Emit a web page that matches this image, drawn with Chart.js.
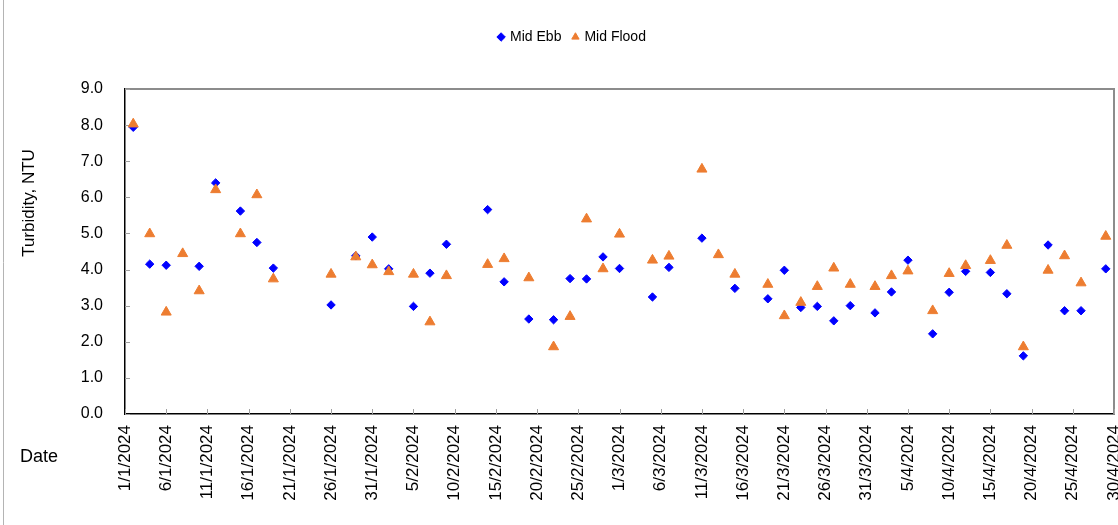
<!DOCTYPE html>
<html>
<head>
<meta charset="utf-8">
<script src="https://cdn.jsdelivr.net/npm/chart.js@4.4.0/dist/chart.umd.min.js"></script>
<style>
  html, body { margin: 0; padding: 0; background: #fff; }
</style>
</head>
<body>
<canvas id="turbChart" width="1118" height="525"></canvas>
<script>
// sampling dates (d/m/yyyy) and turbidity readings, NTU (null = no reading)
const sampleDates = [
  '2/1/2024', '4/1/2024', '6/1/2024', '8/1/2024', '10/1/2024', '12/1/2024',
  '15/1/2024', '17/1/2024', '19/1/2024', '26/1/2024', '29/1/2024', '31/1/2024',
  '2/2/2024', '5/2/2024', '7/2/2024', '9/2/2024', '14/2/2024', '16/2/2024',
  '19/2/2024', '22/2/2024', '24/2/2024', '26/2/2024', '28/2/2024', '1/3/2024',
  '5/3/2024', '7/3/2024', '11/3/2024', '13/3/2024', '15/3/2024', '19/3/2024',
  '21/3/2024', '23/3/2024', '25/3/2024', '27/3/2024', '29/3/2024', '1/4/2024',
  '3/4/2024', '5/4/2024', '8/4/2024', '10/4/2024', '12/4/2024', '15/4/2024',
  '17/4/2024', '19/4/2024', '22/4/2024', '24/4/2024', '26/4/2024', '29/4/2024'
];
const midEbb = [
  7.94, 4.15, 4.12, null, 4.09, 6.40, 5.62, 4.75, 4.04, 3.02, 4.38, 4.90,
  4.02, 2.98, 3.90, 4.70, 5.66, 3.66, 2.63, 2.61, 3.75, 3.74, 4.35, 4.03,
  3.24, 4.06, 4.87, null, 3.48, 3.19, 3.98, 2.95, 2.98, 2.58, 3.00, 2.80,
  3.38, 4.26, 2.22, 3.37, 3.95, 3.92, 3.33, 1.61, 4.68, 2.86, 2.86, 4.02
];
const midFlood = [
  8.03, 4.99, 2.82, 4.44, 3.41, 6.21, 4.99, 6.07, 3.74, 3.87, 4.35, 4.13,
  3.94, 3.87, 2.55, 3.83, 4.14, 4.30, 3.77, 1.86, 2.70, 5.40, 4.02, 4.98,
  4.26, 4.37, 6.78, 4.41, 3.87, 3.59, 2.72, 3.09, 3.53, 4.04, 3.59, 3.53,
  3.83, 3.96, 2.86, 3.89, 4.11, 4.25, 4.67, 1.86, 3.98, 4.38, 3.63, 4.92
];
const tickLabels = [
  '1/1/2024', '6/1/2024', '11/1/2024', '16/1/2024', '21/1/2024', '26/1/2024',
  '31/1/2024', '5/2/2024', '10/2/2024', '15/2/2024', '20/2/2024', '25/2/2024',
  '1/3/2024', '6/3/2024', '11/3/2024', '16/3/2024', '21/3/2024', '26/3/2024',
  '31/3/2024', '5/4/2024', '10/4/2024', '15/4/2024', '20/4/2024', '25/4/2024',
  '30/4/2024'
];

// days since the first tick label
function dayOf(s) {
  const [d, m, y] = s.split('/').map(Number);
  const [d0, m0, y0] = tickLabels[0].split('/').map(Number);
  return (Date.UTC(y, m - 1, d) - Date.UTC(y0, m0 - 1, d0)) / 86400000;
}
const points = vals => sampleDates.map((d, i) => ({ x: dayOf(d), y: vals[i] }));

const FONT = "Arial, 'Liberation Sans', sans-serif";
Chart.defaults.font.family = FONT;
Chart.defaults.color = '#000';

// plot frame, inside tick marks and axis titles
const framePlugin = {
  id: 'frame',
  beforeDatasetsDraw(chart) {
    const { ctx, chartArea: a, scales: { x, y } } = chart;
    ctx.save();
    ctx.strokeStyle = '#b4b4b4';
    ctx.lineWidth = 1;
    ctx.beginPath();
    ctx.moveTo(3.5, 0);
    ctx.lineTo(3.5, chart.height);
    ctx.stroke();

    ctx.strokeStyle = '#8c8c8c';
    ctx.lineWidth = 2;
    ctx.beginPath();
    ctx.moveTo(a.left, a.top);
    ctx.lineTo(a.right, a.top);
    ctx.lineTo(a.right, a.bottom);
    ctx.stroke();

    ctx.strokeStyle = '#a0a0a0';
    ctx.lineWidth = 1;
    ctx.beginPath();
    x.ticks.forEach(t => {
      const px = Math.round(x.getPixelForValue(t.value)) + 0.5;
      ctx.moveTo(px, a.bottom);
      ctx.lineTo(px, a.bottom - 5);
    });
    y.ticks.forEach(t => {
      const py = Math.round(y.getPixelForValue(t.value)) + 0.5;
      ctx.moveTo(a.left, py);
      ctx.lineTo(a.left + 5, py);
    });
    ctx.stroke();
    ctx.restore();
  },
  afterDraw(chart) {
    const { ctx } = chart;
    ctx.save();
    ctx.fillStyle = '#000';
    ctx.textBaseline = 'middle';
    ctx.textAlign = 'left';
    ctx.font = '18px ' + FONT;
    ctx.fillText('Date', 20, 457);
    ctx.font = '17px ' + FONT;
    ctx.translate(29, 203);
    ctx.rotate(-Math.PI / 2);
    ctx.textAlign = 'center';
    ctx.fillText('Turbidity, NTU', 0, 0);
    ctx.restore();
  }
};

new Chart(document.getElementById('turbChart'), {
  type: 'scatter',
  data: {
    datasets: [{
      label: 'Mid Ebb',
      data: points(midEbb),
      pointStyle: 'rectRot',
      pointRadius: 4.2,
      pointHoverRadius: 4.2,
      borderWidth: 1,
      backgroundColor: '#0000ff',
      borderColor: '#0000ff',
      order: 1
    }, {
      label: 'Mid Flood',
      data: points(midFlood),
      pointStyle: 'triangle',
      pointRadius: 5.8,
      pointHoverRadius: 5.8,
      borderWidth: 1,
      backgroundColor: '#ed7d31',
      borderColor: '#ed7d31',
      order: 0
    }]
  },
  options: {
    responsive: false,
    animation: false,
    layout: { autoPadding: false, padding: { left: 31, right: 4, top: 18, bottom: 0 } },
    plugins: {
      legend: {
        position: 'top',
        labels: {
          usePointStyle: true,
          boxWidth: 4,
          boxHeight: 6,
          padding: 12,
          color: '#000',
          font: { size: 14 },
          sort: (a, b) => a.datasetIndex - b.datasetIndex
        }
      },
      // empty title used as a spacer between legend and plot
      title: {
        display: true,
        text: ' ',
        weight: 500,
        font: { size: 10 },
        padding: { top: 0, bottom: 23 }
      },
      tooltip: { enabled: false }
    },
    scales: {
      x: {
        type: 'linear',
        min: 0,
        max: dayOf(tickLabels[tickLabels.length - 1]),
        grid: { display: false, drawTicks: false },
        border: { display: true, color: '#000', width: 1.5 },
        afterBuildTicks: s => { s.ticks = tickLabels.map(l => ({ value: dayOf(l) })); },
        ticks: {
          autoSkip: false,
          minRotation: 90,
          maxRotation: 90,
          padding: 11,
          font: { size: 17 },
          color: '#000',
          callback: v => tickLabels.find(l => dayOf(l) === v) || ''
        },
        afterFit: s => { s.height = 111; s.paddingLeft = 0; s.paddingRight = 0; }
      },
      y: {
        min: 0,
        max: 9,
        grid: { display: false, drawTicks: false },
        border: { display: true, color: '#000', width: 1.5 },
        ticks: {
          stepSize: 1,
          padding: 22,
          font: { size: 16 },
          color: '#000',
          callback: v => v.toFixed(1)
        },
        afterFit: s => { s.width = 94; }
      }
    }
  },
  plugins: [framePlugin]
});
</script>
</body>
</html>
